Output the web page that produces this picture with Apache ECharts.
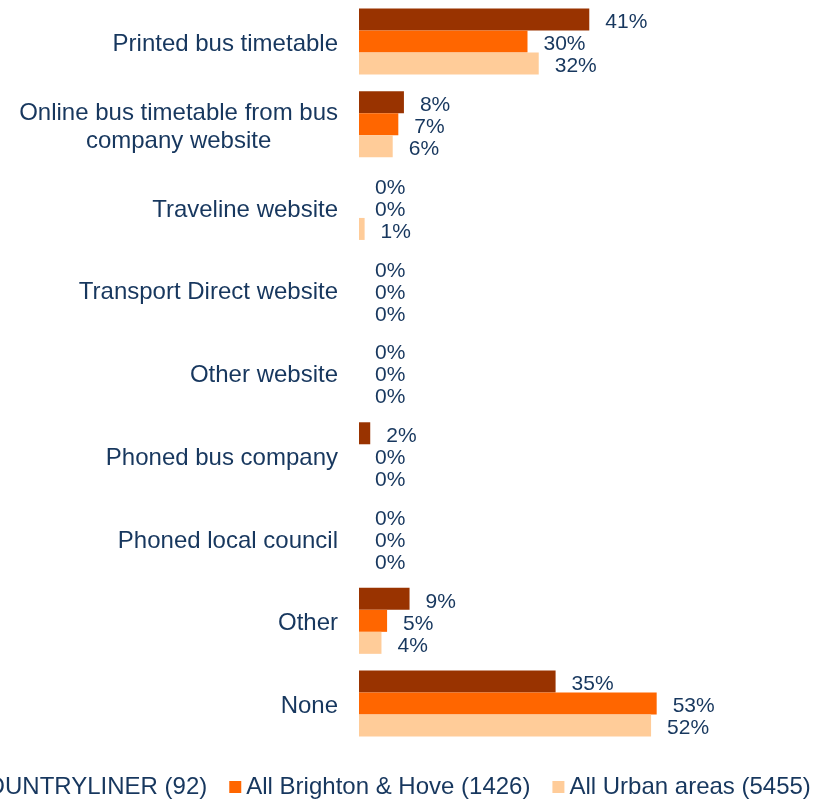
<!DOCTYPE html>
<html>
<head>
<meta charset="utf-8">
<script src="https://cdn.jsdelivr.net/npm/echarts@6/dist/echarts.min.js"></script>
<style>
  html, body { margin: 0; padding: 0; background: #fff; }
  #main { width: 815px; height: 802px; }
</style>
</head>
<body>
<div id="main"></div>
<script>
// categories, top to bottom
var categories = [
  'Printed bus timetable',
  'Online bus timetable from bus\ncompany website',
  'Traveline website',
  'Transport Direct website',
  'Other website',
  'Phoned bus company',
  'Phoned local council',
  'Other',
  'None'
];
var seriesNames = ['COUNTRYLINER (92)', 'All Brighton & Hove (1426)', 'All Urban areas (5455)'];
var countryliner = [41, 8, 0, 0, 0, 2, 0, 9, 35];
var brighton = [30, 7, 0, 0, 0, 0, 0, 5, 53];
var urban = [32, 6, 1, 0, 0, 0, 0, 4, 52];

var colors = ['#993300', '#FF6600', '#FFCC99'];
var textColor = '#17375E';

function makeSeries(name, data, color) {
  return {
    name: name,
    type: 'bar',
    data: data,
    barWidth: 22,
    barGap: '0%',
    itemStyle: { color: color },
    label: {
      show: true,
      position: 'right',
      distance: 16,
      offset: [0, 3],
      formatter: '{c}%',
      color: textColor,
      fontSize: 21,
      fontFamily: 'Liberation Sans'
    }
  };
}

var chart = echarts.init(document.getElementById('main'));
chart.setOption({
  animation: false,
  color: colors,
  textStyle: { fontFamily: 'Liberation Sans' },
  grid: {
    left: 359,
    top: 0,
    width: 337,
    height: 745,
    containLabel: false,
    outerBoundsMode: 'none'
  },
  legend: {
    left: -53,
    bottom: -2,
    width: 1000,
    itemWidth: 12,
    itemHeight: 12,
    itemGap: 22,
    icon: 'rect',
    textStyle: { color: textColor, fontSize: 24, fontFamily: 'Liberation Sans' },
    data: seriesNames
  },
  xAxis: {
    type: 'value',
    min: 0,
    max: 60,
    show: false
  },
  yAxis: {
    type: 'category',
    inverse: true,
    data: categories,
    axisLine: { show: false },
    axisTick: { show: false },
    axisLabel: {
      margin: 21,
      align: 'right',
      padding: [6, 0, 0, 0],
      color: textColor,
      fontSize: 24,
      lineHeight: 28,
      fontFamily: 'Liberation Sans',
      formatter: function (v) {
        return v.split('\n').map(function (s) { return '{c|' + s + '}'; }).join('\n');
      },
      rich: {
        c: { align: 'center', color: textColor, fontSize: 24, lineHeight: 28, fontFamily: 'Liberation Sans' }
      }
    }
  },
  series: [
    makeSeries(seriesNames[0], countryliner, colors[0]),
    makeSeries(seriesNames[1], brighton, colors[1]),
    makeSeries(seriesNames[2], urban, colors[2])
  ]
});
</script>
</body>
</html>
